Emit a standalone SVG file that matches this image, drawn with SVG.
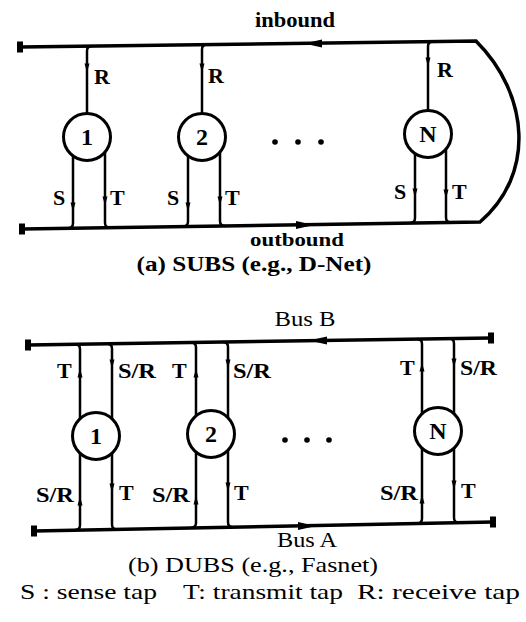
<svg xmlns="http://www.w3.org/2000/svg" xmlns:xlink="http://www.w3.org/1999/xlink" width="526" height="622" viewBox="0 0 526 622">
<style>
.bus{fill:none;stroke:#000;stroke-width:3.5;stroke-linejoin:miter}
.tap{fill:none;stroke:#000;stroke-width:2.5}
.node circle{fill:#fff;stroke:#000;stroke-width:3}
.num{font-family:"Liberation Serif",serif;font-weight:bold;font-size:24px;text-anchor:middle}
.lbl{font-family:"Liberation Serif",serif;font-weight:bold;font-size:22px}
.cap{font-family:"Liberation Serif",serif;font-size:21px}
.capb{font-family:"Liberation Serif",serif;font-weight:bold;font-size:21px}
</style>
<defs>
<path id="ad" d="M-2.5,-4.5 L2.5,-4.5 L0,4.5 Z" fill="#000"/>
<path id="ab" d="M-9,-4 L9,0 L-9,4 Z" fill="#000"/>
<rect id="cap" x="-3" y="-5.5" width="6" height="11" fill="#000"/>
</defs>

<!-- (a) SUBS -->
<g id="buses-a">
<path class="bus" d="M20,47 L476,41 C530,95 535,175 480,222 L22,229"/>
<use xlink:href="#cap" x="20" y="47"/>
<use xlink:href="#cap" x="22" y="229"/>
<use xlink:href="#ab" transform="translate(313,43.5) rotate(180)"/>
<use xlink:href="#ab" transform="translate(305,225)"/>
<text class="capb" x="295" y="27" text-anchor="middle" textLength="80" lengthAdjust="spacingAndGlyphs">inbound</text>
<text class="capb" x="297" y="246" text-anchor="middle" style="font-size:19px" textLength="94" lengthAdjust="spacingAndGlyphs">outbound</text>
</g>

<g id="connectors-a">
<path class="tap" d="M92,46 Q87,46 87,51 L87,114"/>
<path class="tap" d="M207,44.6 Q202,44.6 202,49.6 L202,114"/>
<path class="tap" d="M433,41.6 Q428,41.6 428,46.6 L428,111"/>
<path class="tap" d="M73,155 L73,223 Q73,228.2 68,228.2"/>
<path class="tap" d="M105,151 L105,222.7 Q105,227.7 110,227.7"/>
<path class="tap" d="M188,155 L188,221.5 Q188,226.5 183,226.5"/>
<path class="tap" d="M220,151 L220,221 Q220,226 225,226"/>
<path class="tap" d="M415,153 L415,218 Q415,223 410,223"/>
<path class="tap" d="M446,148 L446,217.5 Q446,222.5 451,222.5"/>
<use xlink:href="#ad" x="87" y="68"/>
<use xlink:href="#ad" x="202" y="68"/>
<use xlink:href="#ad" x="428" y="62"/>
<use xlink:href="#ad" x="73" y="207"/>
<use xlink:href="#ad" x="105" y="201"/>
<use xlink:href="#ad" x="188" y="207"/>
<use xlink:href="#ad" x="220" y="201"/>
<use xlink:href="#ad" x="415" y="193"/>
<use xlink:href="#ad" x="446" y="194"/>
<text class="lbl" x="94" y="84">R</text>
<text class="lbl" x="208" y="83">R</text>
<text class="lbl" x="437" y="77">R</text>
<text class="lbl" x="53" y="205">S</text>
<text class="lbl" x="110" y="205">T</text>
<text class="lbl" x="167" y="205">S</text>
<text class="lbl" x="225" y="205">T</text>
<text class="lbl" x="394" y="199">S</text>
<text class="lbl" x="452" y="199">T</text>
</g>

<g id="node-a1" class="node"><circle cx="87" cy="137" r="23.5"/><text class="num" x="87" y="145">1</text></g>
<g id="node-a2" class="node"><circle cx="202" cy="137" r="23.5"/><text class="num" x="202" y="145">2</text></g>
<g id="node-aN" class="node"><circle cx="428" cy="134" r="23.5"/><text class="num" x="428" y="142">N</text></g>
<g id="dots-a"><circle cx="275" cy="142" r="2.8"/><circle cx="298" cy="142" r="2.8"/><circle cx="321" cy="142" r="2.8"/></g>

<text class="capb" x="254" y="271" text-anchor="middle" style="font-size:20px" textLength="235" lengthAdjust="spacingAndGlyphs">(a) SUBS (e.g., D-Net)</text>

<!-- (b) DUBS -->
<g id="buses-b">
<path class="bus" d="M28,345 L491,338"/>
<path class="bus" d="M34,531 L493,522"/>
<use xlink:href="#cap" x="28" y="345"/>
<use xlink:href="#cap" x="491" y="338"/>
<use xlink:href="#cap" x="34" y="531"/>
<use xlink:href="#cap" x="493" y="522"/>
<use xlink:href="#ab" transform="translate(318,340.5) rotate(180)"/>
<use xlink:href="#ab" transform="translate(307,526)"/>
<text class="cap" x="305" y="326" text-anchor="middle" textLength="61" lengthAdjust="spacingAndGlyphs">Bus B</text>
<text class="cap" x="307" y="547" text-anchor="middle" textLength="60" lengthAdjust="spacingAndGlyphs">Bus A</text>
</g>

<g id="connectors-b">
<path class="tap" d="M75,344.2 Q80,344.2 80,349.2 L80,419.5"/>
<path class="tap" d="M107,343.7 Q112,343.7 112,348.7 L112,419.5"/>
<path class="tap" d="M191,342.5 Q196,342.5 196,347.5 L196,416.6"/>
<path class="tap" d="M223,342 Q228,342 228,347 L228,418.5"/>
<path class="tap" d="M417,339 Q422,339 422,344 L422,414.5"/>
<path class="tap" d="M449,338.6 Q454,338.6 454,343.6 L454,414.5"/>
<path class="tap" d="M80,452.5 L80,525.1 Q80,530.1 75,530.1"/>
<path class="tap" d="M112,452.5 L112,524.5 Q112,529.5 117,529.5"/>
<path class="tap" d="M196,451.4 L196,522.8 Q196,527.8 191,527.8"/>
<path class="tap" d="M228,449.5 L228,522.2 Q228,527.2 233,527.2"/>
<path class="tap" d="M422,447.5 L422,518.4 Q422,523.4 417,523.4"/>
<path class="tap" d="M454,447.5 L454,517.8 Q454,522.8 459,522.8"/>
<use xlink:href="#ad" transform="translate(80,373) rotate(180)"/>
<use xlink:href="#ad" x="112" y="364"/>
<use xlink:href="#ad" transform="translate(196,373) rotate(180)"/>
<use xlink:href="#ad" x="228" y="364"/>
<use xlink:href="#ad" transform="translate(422,367) rotate(180)"/>
<use xlink:href="#ad" x="454" y="363"/>
<use xlink:href="#ad" transform="translate(80,501) rotate(180)"/>
<use xlink:href="#ad" x="112" y="488"/>
<use xlink:href="#ad" transform="translate(196,500) rotate(180)"/>
<use xlink:href="#ad" x="228" y="487"/>
<use xlink:href="#ad" transform="translate(422,499) rotate(180)"/>
<use xlink:href="#ad" x="454" y="485"/>
<text class="lbl" x="57" y="378">T</text>
<text class="lbl" x="118" y="378" textLength="38" lengthAdjust="spacingAndGlyphs">S/R</text>
<text class="lbl" x="172" y="378">T</text>
<text class="lbl" x="233" y="378" textLength="38" lengthAdjust="spacingAndGlyphs">S/R</text>
<text class="lbl" x="400" y="375">T</text>
<text class="lbl" x="460" y="375" textLength="37" lengthAdjust="spacingAndGlyphs">S/R</text>
<text class="lbl" x="36" y="502" textLength="38" lengthAdjust="spacingAndGlyphs">S/R</text>
<text class="lbl" x="119" y="500">T</text>
<text class="lbl" x="152" y="502" textLength="38" lengthAdjust="spacingAndGlyphs">S/R</text>
<text class="lbl" x="234" y="500">T</text>
<text class="lbl" x="380" y="500" textLength="38" lengthAdjust="spacingAndGlyphs">S/R</text>
<text class="lbl" x="461" y="498">T</text>
</g>

<g id="node-b1" class="node"><circle cx="96" cy="436" r="23.5"/><text class="num" x="96" y="444">1</text></g>
<g id="node-b2" class="node"><circle cx="211" cy="434" r="23.5"/><text class="num" x="211" y="442">2</text></g>
<g id="node-bN" class="node"><circle cx="438" cy="431" r="23.5"/><text class="num" x="438" y="439">N</text></g>
<g id="dots-b"><circle cx="285" cy="440" r="2.8"/><circle cx="307" cy="440" r="2.8"/><circle cx="329" cy="440" r="2.8"/></g>

<text class="cap" x="253" y="572" text-anchor="middle" textLength="250" lengthAdjust="spacingAndGlyphs">(b) DUBS (e.g., Fasnet)</text>

<g id="legend">
<text class="cap" x="20" y="599" textLength="137" lengthAdjust="spacingAndGlyphs">S : sense tap</text>
<text class="cap" x="183" y="599" textLength="160" lengthAdjust="spacingAndGlyphs">T: transmit tap</text>
<text class="cap" x="357" y="599" textLength="163" lengthAdjust="spacingAndGlyphs">R: receive tap</text>
</g>
</svg>
